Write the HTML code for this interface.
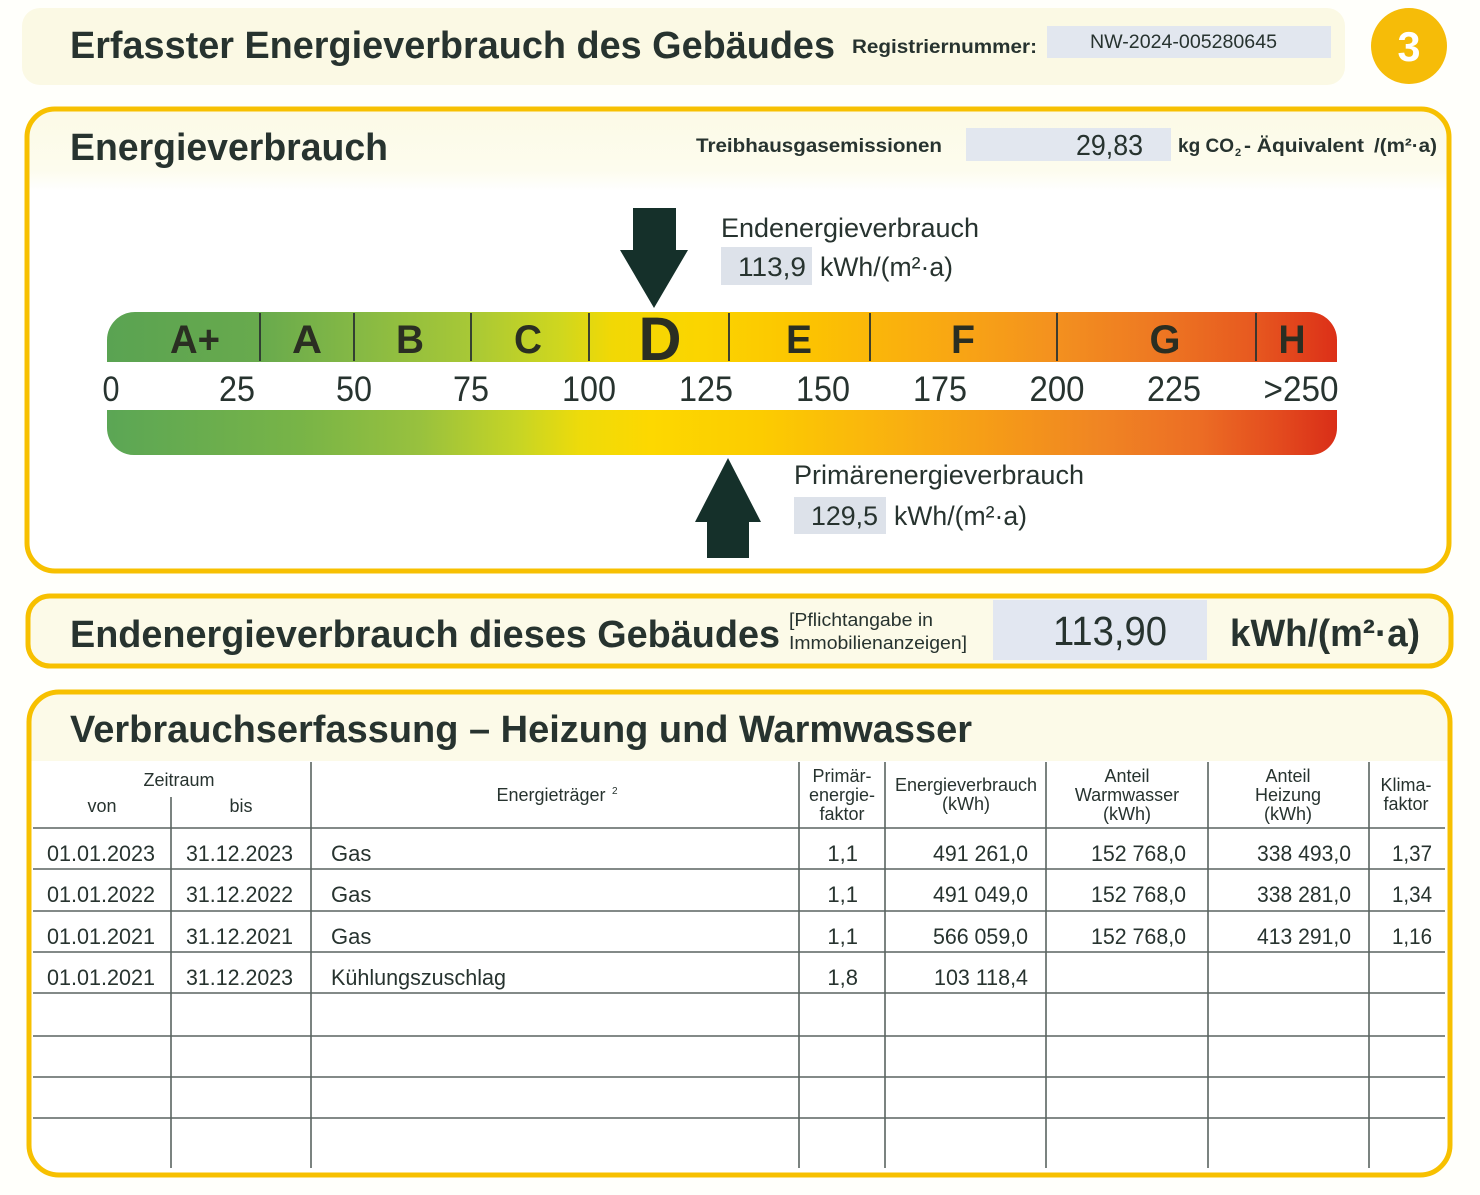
<!DOCTYPE html>
<html><head><meta charset="utf-8"><style>
html,body{margin:0;padding:0;background:#fffffb;}
svg{display:block;}
text{font-family:"Liberation Sans",Arial,sans-serif;fill:#27332f;}
.b{font-weight:bold;}
</style></head><body>
<svg width="1480" height="1195" viewBox="0 0 1480 1195" xmlns="http://www.w3.org/2000/svg">
<defs>
<linearGradient id="gt" gradientUnits="userSpaceOnUse" x1="107" y1="0" x2="1337" y2="0">
<stop offset="0" stop-color="#5aa352"/>
<stop offset="0.124" stop-color="#68aa4d"/>
<stop offset="0.2" stop-color="#84b845"/>
<stop offset="0.296" stop-color="#a8c836"/>
<stop offset="0.37" stop-color="#d0d71e"/>
<stop offset="0.41" stop-color="#f1d805"/>
<stop offset="0.48" stop-color="#fbd500"/>
<stop offset="0.563" stop-color="#fcc500"/>
<stop offset="0.685" stop-color="#f9a713"/>
<stop offset="0.773" stop-color="#f3901f"/>
<stop offset="0.848" stop-color="#ee7a22"/>
<stop offset="0.93" stop-color="#e75a20"/>
<stop offset="1" stop-color="#dc3018"/>
</linearGradient>
<linearGradient id="gb" gradientUnits="userSpaceOnUse" x1="107" y1="0" x2="1337" y2="0">
<stop offset="0" stop-color="#5ba655"/>
<stop offset="0.157" stop-color="#78b447"/>
<stop offset="0.254" stop-color="#98c13e"/>
<stop offset="0.336" stop-color="#c8d524"/>
<stop offset="0.385" stop-color="#eedb0a"/>
<stop offset="0.441" stop-color="#fdd800"/>
<stop offset="0.531" stop-color="#fccc00"/>
<stop offset="0.645" stop-color="#f9b010"/>
<stop offset="0.726" stop-color="#f59a18"/>
<stop offset="0.807" stop-color="#f08523"/>
<stop offset="0.888" stop-color="#ec6d24"/>
<stop offset="0.954" stop-color="#e34a1e"/>
<stop offset="1" stop-color="#d92e18"/>
</linearGradient>
<linearGradient id="cr" x1="0" y1="0" x2="0" y2="1">
<stop offset="0" stop-color="#fcfae6"/>
<stop offset="0.75" stop-color="#fdfcee"/>
<stop offset="1" stop-color="#ffffff"/>
</linearGradient>
<clipPath id="c1"><rect x="27" y="109" width="1422" height="462" rx="28"/></clipPath>
<clipPath id="c3"><rect x="29" y="692" width="1421" height="483" rx="30"/></clipPath>
</defs>

<!-- header band -->
<rect x="22" y="8" width="1323" height="77" rx="18" fill="#fbf9e4"/>
<text class="b" x="70" y="58" font-size="38" textLength="765" lengthAdjust="spacingAndGlyphs">Erfasster Energieverbrauch des Gebäudes</text>
<text class="b" x="852" y="53" font-size="19" textLength="185" lengthAdjust="spacingAndGlyphs">Registriernummer:</text>
<rect x="1047" y="26" width="284" height="32" fill="#e2e7ef"/>
<text x="1090" y="48" font-size="19" textLength="187" lengthAdjust="spacingAndGlyphs">NW-2024-005280645</text>
<circle cx="1409" cy="46" r="38" fill="#f6bc08"/>
<text class="b" x="1409" y="61" font-size="42" text-anchor="middle" style="fill:#ffffff" textLength="23" lengthAdjust="spacingAndGlyphs">3</text>

<!-- box 1 -->
<rect x="27" y="109" width="1422" height="462" rx="28" fill="#ffffff"/>
<g clip-path="url(#c1)"><rect x="27" y="109" width="1422" height="82" fill="url(#cr)"/></g>
<rect x="27" y="109" width="1422" height="462" rx="28" fill="none" stroke="#f7c000" stroke-width="5"/>
<text class="b" x="70" y="160" font-size="38" textLength="318" lengthAdjust="spacingAndGlyphs">Energieverbrauch</text>
<text class="b" x="696" y="152" font-size="19" textLength="246" lengthAdjust="spacingAndGlyphs">Treibhausgasemissionen</text>
<rect x="966" y="128" width="205" height="33" fill="#e2e7ef"/>
<text x="1143" y="155" font-size="29" text-anchor="end" textLength="67" lengthAdjust="spacingAndGlyphs">29,83</text>
<text class="b" x="1178" y="152" font-size="19" textLength="56" lengthAdjust="spacingAndGlyphs">kg CO</text>
<text class="b" x="1235" y="156" font-size="11">2</text>
<text class="b" x="1244" y="152" font-size="19" textLength="120" lengthAdjust="spacingAndGlyphs">- Äquivalent</text>
<text class="b" x="1374" y="152" font-size="19" textLength="63" lengthAdjust="spacingAndGlyphs">/(m²·a)</text>

<!-- top arrow -->
<polygon points="633,208 676,208 676,250 688,250 654,308 620,250 633,250" fill="#15302a"/>
<text x="721" y="237" font-size="27" textLength="258" lengthAdjust="spacingAndGlyphs">Endenergieverbrauch</text>
<rect x="721" y="247" width="91" height="38" fill="#dde2ea"/>
<text x="738" y="276" font-size="27" textLength="68" lengthAdjust="spacingAndGlyphs">113,9</text>
<text x="820" y="276" font-size="27" textLength="133" lengthAdjust="spacingAndGlyphs">kWh/(m²·a)</text>

<!-- scale bar -->
<path d="M107,362 L107,340 A28,28 0 0 1 135,312 L1309,312 A28,28 0 0 1 1337,340 L1337,362 Z" fill="url(#gt)"/>
<g stroke="#2a3330" stroke-width="1.8">
<line x1="260" y1="313" x2="260" y2="361"/>
<line x1="354" y1="313" x2="354" y2="361"/>
<line x1="471" y1="313" x2="471" y2="361"/>
<line x1="589" y1="313" x2="589" y2="361"/>
<line x1="729" y1="313" x2="729" y2="361"/>
<line x1="870" y1="313" x2="870" y2="361"/>
<line x1="1057" y1="313" x2="1057" y2="361"/>
<line x1="1256" y1="313" x2="1256" y2="361"/>
</g>
<g class="b" font-size="40" text-anchor="middle">
<text class="b" x="195" y="353" textLength="50" lengthAdjust="spacingAndGlyphs" style="fill:#2a2e22">A+</text>
<text class="b" x="307" y="353" textLength="30" lengthAdjust="spacingAndGlyphs" style="fill:#2a2e22">A</text>
<text class="b" x="410" y="353" textLength="28" lengthAdjust="spacingAndGlyphs" style="fill:#2a2e22">B</text>
<text class="b" x="528" y="353" textLength="28" lengthAdjust="spacingAndGlyphs" style="fill:#2a2e22">C</text>
<text class="b" x="660" y="360" font-size="61" textLength="43" lengthAdjust="spacingAndGlyphs" style="fill:#2a2e22">D</text>
<text class="b" x="799" y="353" textLength="26" lengthAdjust="spacingAndGlyphs" style="fill:#2a2e22">E</text>
<text class="b" x="963" y="353" textLength="24" lengthAdjust="spacingAndGlyphs" style="fill:#2a2e22">F</text>
<text class="b" x="1165" y="353" textLength="31" lengthAdjust="spacingAndGlyphs" style="fill:#2a2e22">G</text>
<text class="b" x="1292" y="353" textLength="27" lengthAdjust="spacingAndGlyphs" style="fill:#2a2e22">H</text>
</g>
<g font-size="35" text-anchor="middle">
<text x="111" y="401" textLength="17" lengthAdjust="spacingAndGlyphs">0</text>
<text x="237" y="401" textLength="36" lengthAdjust="spacingAndGlyphs">25</text>
<text x="354" y="401" textLength="36" lengthAdjust="spacingAndGlyphs">50</text>
<text x="471" y="401" textLength="36" lengthAdjust="spacingAndGlyphs">75</text>
<text x="589" y="401" textLength="54" lengthAdjust="spacingAndGlyphs">100</text>
<text x="706" y="401" textLength="54" lengthAdjust="spacingAndGlyphs">125</text>
<text x="823" y="401" textLength="54" lengthAdjust="spacingAndGlyphs">150</text>
<text x="940" y="401" textLength="54" lengthAdjust="spacingAndGlyphs">175</text>
<text x="1057" y="401" textLength="55" lengthAdjust="spacingAndGlyphs">200</text>
<text x="1174" y="401" textLength="54" lengthAdjust="spacingAndGlyphs">225</text>
<text x="1301" y="401" textLength="75" lengthAdjust="spacingAndGlyphs">&gt;250</text>
</g>
<path d="M107,410 L1337,410 L1337,428 A27,27 0 0 1 1310,455 L134,455 A27,27 0 0 1 107,428 Z" fill="url(#gb)"/>

<!-- bottom arrow -->
<polygon points="728,458 761,522 749,522 749,558 707,558 707,522 695,522" fill="#15302a"/>
<text x="794" y="484" font-size="27" textLength="290" lengthAdjust="spacingAndGlyphs">Primärenergieverbrauch</text>
<rect x="794" y="497" width="92" height="37" fill="#dde2ea"/>
<text x="811" y="525" font-size="27" textLength="67" lengthAdjust="spacingAndGlyphs">129,5</text>
<text x="894" y="525" font-size="27" textLength="133" lengthAdjust="spacingAndGlyphs">kWh/(m²·a)</text>

<!-- box 2 -->
<rect x="28" y="596" width="1423" height="70" rx="22" fill="#fcfae8" stroke="#f7c000" stroke-width="5"/>
<rect x="993" y="600" width="214" height="60" fill="#e2e7f1"/>
<text class="b" x="70" y="647" font-size="38" textLength="710" lengthAdjust="spacingAndGlyphs">Endenergieverbrauch dieses Gebäudes</text>
<text x="789" y="626" font-size="18" textLength="144" lengthAdjust="spacingAndGlyphs">[Pflichtangabe in</text>
<text x="789" y="649" font-size="18" textLength="178" lengthAdjust="spacingAndGlyphs">Immobilienanzeigen]</text>
<text x="1053" y="645" font-size="41" textLength="114" lengthAdjust="spacingAndGlyphs">113,90</text>
<text class="b" x="1230" y="646" font-size="38" textLength="190" lengthAdjust="spacingAndGlyphs">kWh/(m²·a)</text>

<!-- box 3 -->
<rect x="29" y="692" width="1421" height="483" rx="30" fill="#ffffff"/>
<g clip-path="url(#c3)"><rect x="29" y="692" width="1421" height="69" fill="#fcfae8"/></g>
<rect x="29" y="692" width="1421" height="483" rx="30" fill="none" stroke="#f7c000" stroke-width="5"/>
<text class="b" x="70" y="742" font-size="38" textLength="902" lengthAdjust="spacingAndGlyphs">Verbrauchserfassung – Heizung und Warmwasser</text>

<!-- table lines -->
<g stroke="#5a6461" stroke-width="1.6">
<line x1="33" y1="828" x2="1445" y2="828"/>
<line x1="33" y1="869" x2="1445" y2="869"/>
<line x1="33" y1="911" x2="1445" y2="911"/>
<line x1="33" y1="952" x2="1445" y2="952"/>
<line x1="33" y1="993" x2="1445" y2="993"/>
<line x1="33" y1="1036" x2="1445" y2="1036"/>
<line x1="33" y1="1077" x2="1445" y2="1077"/>
<line x1="33" y1="1118" x2="1445" y2="1118"/>
<line x1="171" y1="797" x2="171" y2="1168"/>
<line x1="311" y1="762" x2="311" y2="1168"/>
<line x1="799" y1="762" x2="799" y2="1168"/>
<line x1="885" y1="762" x2="885" y2="1168"/>
<line x1="1046" y1="762" x2="1046" y2="1168"/>
<line x1="1208" y1="762" x2="1208" y2="1168"/>
<line x1="1369" y1="762" x2="1369" y2="1168"/>
</g>

<!-- table header -->
<g font-size="18" text-anchor="middle">
<text x="179" y="786">Zeitraum</text>
<text x="102" y="812">von</text>
<text x="241" y="812">bis</text>
<text x="551" y="801">Energieträger</text>
<text x="842" y="782">Primär-</text>
<text x="842" y="801">energie-</text>
<text x="842" y="820">faktor</text>
<text x="966" y="791">Energieverbrauch</text>
<text x="966" y="810">(kWh)</text>
<text x="1127" y="782">Anteil</text>
<text x="1127" y="801">Warmwasser</text>
<text x="1127" y="820">(kWh)</text>
<text x="1288" y="782">Anteil</text>
<text x="1288" y="801">Heizung</text>
<text x="1288" y="820">(kWh)</text>
<text x="1406" y="791">Klima-</text>
<text x="1406" y="810">faktor</text>
</g>
<text x="612" y="794" font-size="10">2</text>

<!-- table data -->
<g font-size="22">
<text x="47" y="861" textLength="108" lengthAdjust="spacingAndGlyphs">01.01.2023</text>
<text x="186" y="861" textLength="107" lengthAdjust="spacingAndGlyphs">31.12.2023</text>
<text x="331" y="861">Gas</text>
<text x="47" y="902" textLength="108" lengthAdjust="spacingAndGlyphs">01.01.2022</text>
<text x="186" y="902" textLength="107" lengthAdjust="spacingAndGlyphs">31.12.2022</text>
<text x="331" y="902">Gas</text>
<text x="47" y="944" textLength="108" lengthAdjust="spacingAndGlyphs">01.01.2021</text>
<text x="186" y="944" textLength="107" lengthAdjust="spacingAndGlyphs">31.12.2021</text>
<text x="331" y="944">Gas</text>
<text x="47" y="985" textLength="108" lengthAdjust="spacingAndGlyphs">01.01.2021</text>
<text x="186" y="985" textLength="107" lengthAdjust="spacingAndGlyphs">31.12.2023</text>
<text x="331" y="985" textLength="175" lengthAdjust="spacingAndGlyphs">Kühlungszuschlag</text>
</g>
<g font-size="22" text-anchor="end">
<text x="858" y="861">1,1</text>
<text x="1028" y="861" textLength="95" lengthAdjust="spacingAndGlyphs">491 261,0</text>
<text x="1186" y="861" textLength="95" lengthAdjust="spacingAndGlyphs">152 768,0</text>
<text x="1351" y="861" textLength="94" lengthAdjust="spacingAndGlyphs">338 493,0</text>
<text x="1432" y="861" textLength="40" lengthAdjust="spacingAndGlyphs">1,37</text>
<text x="858" y="902">1,1</text>
<text x="1028" y="902" textLength="95" lengthAdjust="spacingAndGlyphs">491 049,0</text>
<text x="1186" y="902" textLength="95" lengthAdjust="spacingAndGlyphs">152 768,0</text>
<text x="1351" y="902" textLength="94" lengthAdjust="spacingAndGlyphs">338 281,0</text>
<text x="1432" y="902" textLength="40" lengthAdjust="spacingAndGlyphs">1,34</text>
<text x="858" y="944">1,1</text>
<text x="1028" y="944" textLength="95" lengthAdjust="spacingAndGlyphs">566 059,0</text>
<text x="1186" y="944" textLength="95" lengthAdjust="spacingAndGlyphs">152 768,0</text>
<text x="1351" y="944" textLength="94" lengthAdjust="spacingAndGlyphs">413 291,0</text>
<text x="1432" y="944" textLength="40" lengthAdjust="spacingAndGlyphs">1,16</text>
<text x="858" y="985">1,8</text>
<text x="1028" y="985" textLength="94" lengthAdjust="spacingAndGlyphs">103 118,4</text>
</g>
</svg>
</body></html>
